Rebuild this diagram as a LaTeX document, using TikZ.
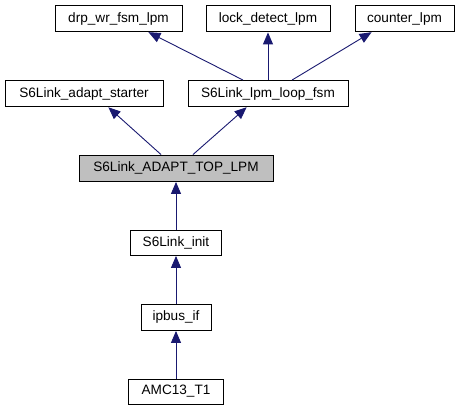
\documentclass[tikz,border=0pt]{standalone}
\usepackage{fontspec}
\setmainfont{Liberation Sans}
\usetikzlibrary{arrows.meta}
\definecolor{edgeblue}{HTML}{191970}
\definecolor{topgray}{HTML}{BFBFBF}
\begin{document}
\begin{tikzpicture}[x=1pt,y=-1pt,
  box/.style={draw=black, line width=0.9pt, fill=white, minimum height=26pt, inner sep=0pt, font=\fontsize{13.6}{15}\selectfont},
  edge/.style={draw=edgeblue, line width=0.9pt, -{Triangle[length=12pt,width=10pt]}, shorten >=0.5pt}]
\useasboundingbox (0,0) rectangle (459,411);
\node[box, minimum width=127pt] (drp) at (118.5,18.5) {drp\_wr\_fsm\_lpm};
\node[box, minimum width=124pt] (lock) at (268,18.5) {lock\_detect\_lpm};
\node[box, minimum width=99pt] (counter) at (404.5,18.5) {counter\_lpm};
\node[box, minimum width=158pt] (starter) at (84,93.5) {S6Link\_adapt\_starter};
\node[box, minimum width=160pt] (loop) at (268,93.5) {S6Link\_lpm\_loop\_fsm};
\node[box, fill=topgray, minimum width=194pt] (top) at (176,168) {S6Link\_ADAPT\_TOP\_LPM};
\node[box, minimum width=91pt, minimum height=25pt] (init) at (176,242.5) {S6Link\_init};
\node[box, minimum width=70pt] (ipbus) at (176,317) {ipbus\_if};
\node[box, minimum width=95pt, minimum height=25pt] (amc) at (176,391.5) {AMC13\_T1};
\draw[edge] ([xshift=-25pt]loop.north) -- ([xshift=29.5pt]drp.south);
\draw[edge] (loop.north) -- (lock.south);
\draw[edge] ([xshift=24pt]loop.north) -- ([xshift=-32.5pt]counter.south);
\draw[edge] ([xshift=-15pt]top.north) -- ([xshift=24pt]starter.south);
\draw[edge] ([xshift=17pt]top.north) -- ([xshift=-21pt]loop.south);
\draw[edge] (init.north) -- (top.south);
\draw[edge] (ipbus.north) -- (init.south);
\draw[edge] (amc.north) -- (ipbus.south);
\end{tikzpicture}
\end{document}
